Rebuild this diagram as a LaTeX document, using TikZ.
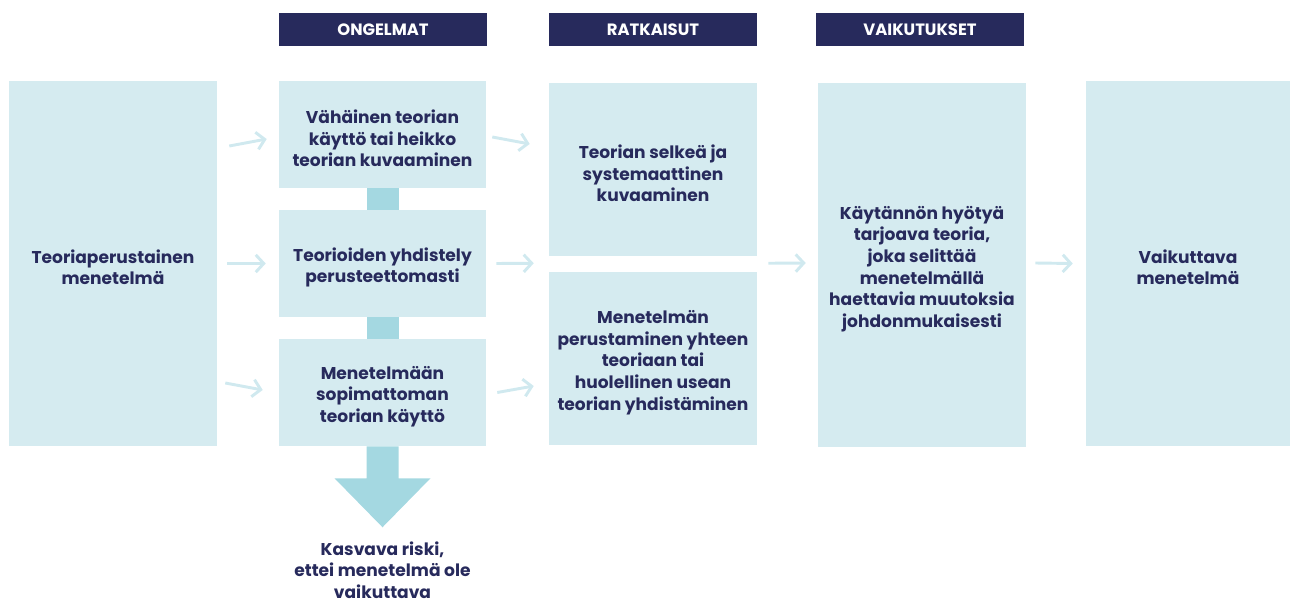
\documentclass[tikz,border=0pt]{standalone}
\usepackage{fontspec}
\setmainfont{Poppins}
\usetikzlibrary{calc,positioning,arrows.meta}
\definecolor{boxblue}{HTML}{D5EBF0}
\definecolor{linkblue}{HTML}{A4D8E1}
\definecolor{navyblue}{HTML}{272A5C}
\definecolor{arrowblue}{HTML}{D0E9EF}

\begin{document}
\begin{tikzpicture}[x=0.75pt, y=-0.75pt,
        box/.style={fill=boxblue, inner sep=0pt, minimum width=156pt, align=center,
            text=navyblue, font=\bfseries\fontsize{12.8}{16.3}\selectfont},
        header/.style={fill=navyblue, inner sep=0pt, minimum width=156pt, minimum height=24.75pt,
            text=white, font=\bfseries\fontsize{12.3}{14}\selectfont},
        flow/.style={draw=arrowblue, line width=2.2pt, -{Straight Barb[length=6pt, width=13pt]}},
        link/.style={fill=linkblue}]
    \useasboundingbox (0,0) rectangle (1290,599);

    \node[header] (hdrprob) at (383, 29.5) {ONGELMAT};
    \node[header] (hdrsol) at (653, 29.5) {RATKAISUT};
    \node[header] (hdreff) at (920, 29.5) {VAIKUTUKSET};

    \node[box, minimum height=273.75pt] (start) at (113, 263.5) {\rule{0pt}{16pt}Teoriaperustainen\\menetelmä};
    \node[box, minimum width=155.25pt, minimum height=80.25pt] (prob1) at (382.5, 134.5) {\rule{0pt}{16pt}Vähäinen teorian\\käyttö tai heikko\\teorian kuvaaminen};
    \node[box, minimum width=155.25pt, minimum height=80.25pt] (prob2) at (382.5, 263.5) {\rule{0pt}{16pt}Teorioiden yhdistely\\perusteettomasti};
    \node[box, minimum width=155.25pt, minimum height=80.25pt] (prob3) at (382.5, 392.5) {\rule{0pt}{16pt}Menetelmään\\sopimattoman\\teorian käyttö};
    \node[box, minimum height=129.75pt] (sol1) at (653, 169.5) {\rule{0pt}{16pt}Teorian selkeä ja\\systemaattinen\\kuvaaminen};
    \node[box, minimum height=129.75pt] (sol2) at (653, 358.5) {\rule{0pt}{16pt}Menetelmän\\perustaminen yhteen\\teoriaan tai\\huolellinen usean\\teorian yhdistäminen};
    \node[box, minimum height=273pt] (effect) at (922, 265) {\rule{0pt}{16pt}Käytännön hyötyä\\tarjoava teoria,\\joka selittää\\menetelmällä\\haettavia muutoksia\\johdonmukaisesti};
    \node[box, minimum width=153pt, minimum height=273.75pt] (goal) at (1188, 263.5) {\rule{0pt}{16pt}Vaikuttava\\menetelmä};

    \fill[link] ($(prob1.south)+(-16,0)$) rectangle ($(prob2.north)+(16,0)$);
    \fill[link] ($(prob2.south)+(-16,0)$) rectangle ($(prob3.north)+(16,0)$);
    \fill[link] ($(prob3.south)+(-16,0)$) -- ($(prob3.south)+(16,0)$) -- ++(0,32) -- ++(32,0)
        -- ($(prob3.south)+(0,81)$) -- ($(prob3.south)+(-48,32)$) -- ++(32,0) -- cycle;
    \node[box, fill=none, anchor=north] (risk) at ($(prob3.south)+(0,95)$) {Kasvava riski,\\ettei menetelmä ole\\vaikuttava};

    \draw[flow] ([shift={(12,-117.5)}]start.east) -- ([shift={(-12,4.5)}]prob1.west);
    \draw[flow] ([shift={(10,0)}]start.east) -- ([shift={(-13,0)}]prob2.west);
    \draw[flow] ([shift={(8,119.5)}]start.east) -- ([shift={(-16,-2.5)}]prob3.west);
    \draw[flow] ([shift={(6,2.5)}]prob1.east) -- ([shift={(-19,-25.5)}]sol1.west);
    \draw[flow] ([shift={(10,0)}]prob2.east) -- ([shift={(-15,7)}]sol1.south west);
    \draw[flow] ([shift={(11,0)}]prob3.east) -- ([shift={(-15,27.5)}]sol2.west);
    \draw[flow] ([shift={(11,7)}]sol1.south east) -- ([shift={(-12,-2)}]effect.west);
    \draw[flow] ([shift={(9,-2)}]effect.east) -- ([shift={(-13,0)}]goal.west);
\end{tikzpicture}
\end{document}
